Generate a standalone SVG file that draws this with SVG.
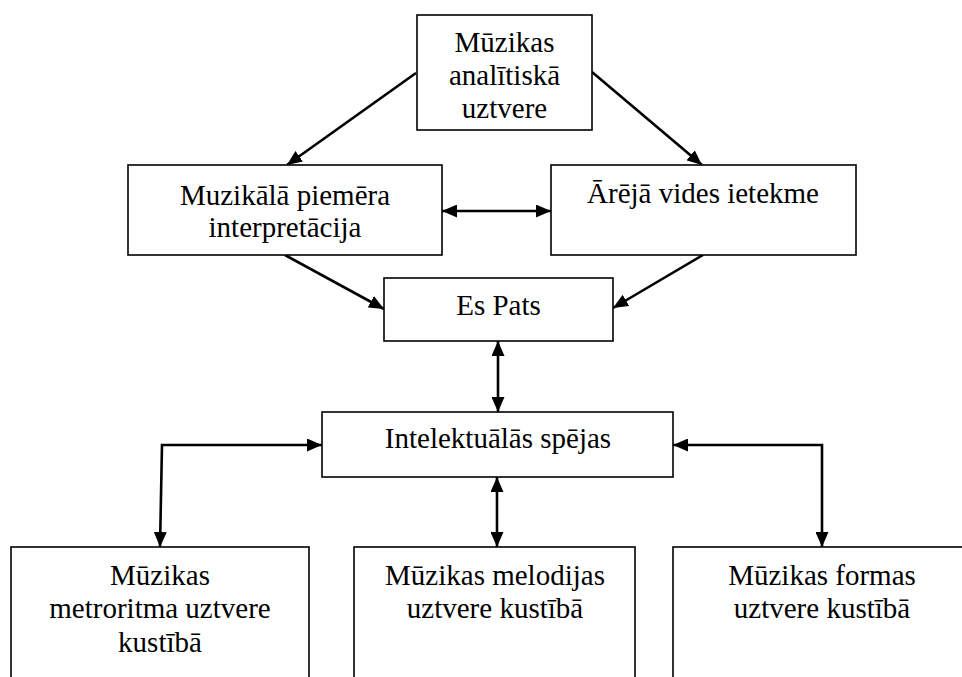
<svg xmlns="http://www.w3.org/2000/svg" width="962" height="677" viewBox="0 0 962 677">
  <style>
    .box { fill: #ffffff; stroke: #000000; stroke-width: 1.6; }
    .lbl { font-family: 'Liberation Serif', 'Times New Roman', serif; font-size: 29px; fill: #000000; text-anchor: middle; }
    .link { fill: none; stroke: #000000; stroke-width: 2.6; marker-start: url(#head); marker-end: url(#head); }
    .one { fill: none; stroke: #000000; stroke-width: 2.6; marker-end: url(#head); }
  </style>
  <defs>
    <marker id="head" viewBox="0 0 15 13" refX="15" refY="6.5" markerWidth="15" markerHeight="13" markerUnits="userSpaceOnUse" orient="auto-start-reverse">
      <path d="M0,0 L15,6.5 L0,13 z" fill="#000000"/>
    </marker>
  </defs>
  <rect width="962" height="677" fill="#ffffff"/>

  <g id="connectors">
    <path class="one" d="M416,73 L287,165"/>
    <path class="one" d="M592,72 L702,165"/>
    <path class="link" d="M442,211 H551"/>
    <path class="one" d="M285,255 L384,309"/>
    <path class="one" d="M703,255 L613,308"/>
    <path class="link" d="M498,341 V412"/>
    <path class="link" d="M322,445 H162 L160,547"/>
    <path class="link" d="M497,477 V547"/>
    <path class="link" d="M673,445 H822 V547"/>
  </g>

  <g id="analitiska">
    <rect class="box" x="417" y="15" width="175" height="115"/>
    <text class="lbl" x="504.5" y="52">Mūzikas</text>
    <text class="lbl" x="504.5" y="85">analītiskā</text>
    <text class="lbl" x="504.5" y="118">uztvere</text>
  </g>

  <g id="interpretacija">
    <rect class="box" x="128" y="165" width="314" height="90"/>
    <text class="lbl" x="285" y="205">Muzikālā piemēra</text>
    <text class="lbl" x="285" y="237">interpretācija</text>
  </g>

  <g id="vide">
    <rect class="box" x="551" y="165" width="305" height="90"/>
    <text class="lbl" x="703" y="203">Ārējā vides ietekme</text>
  </g>

  <g id="es-pats">
    <rect class="box" x="384" y="278" width="229" height="63"/>
    <text class="lbl" x="498.5" y="315">Es Pats</text>
  </g>

  <g id="intelekts">
    <rect class="box" x="322" y="412" width="351" height="65"/>
    <text class="lbl" x="498" y="448">Intelektuālās spējas</text>
  </g>

  <g id="metroritms">
    <rect class="box" x="11" y="547" width="298" height="150"/>
    <text class="lbl" x="160" y="585">Mūzikas</text>
    <text class="lbl" x="160" y="618">metroritma uztvere</text>
    <text class="lbl" x="160" y="652">kustībā</text>
  </g>

  <g id="melodija">
    <rect class="box" x="354" y="547" width="281" height="150"/>
    <text class="lbl" x="495" y="585">Mūzikas melodijas</text>
    <text class="lbl" x="495" y="618">uztvere kustībā</text>
  </g>

  <g id="forma">
    <rect class="box" x="673" y="547" width="300" height="150"/>
    <text class="lbl" x="822" y="585">Mūzikas formas</text>
    <text class="lbl" x="822" y="618">uztvere kustībā</text>
  </g>
</svg>
